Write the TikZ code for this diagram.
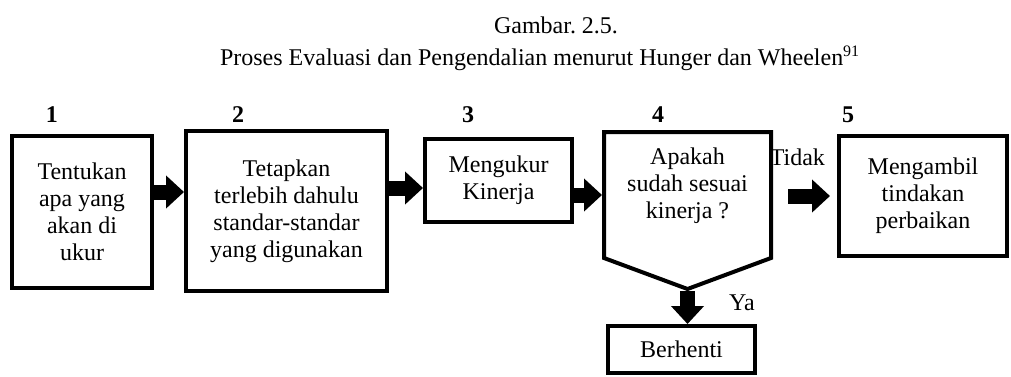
\documentclass[tikz,border=0pt]{standalone}
\usepackage{fontspec}
\setmainfont{Liberation Serif}
\usetikzlibrary{arrows.meta,positioning}

\begin{document}
\begin{tikzpicture}[x=0.5pt,y=-0.5pt,font=\fontsize{12}{13.5}\selectfont,
        kotak/.style={draw,line width=2pt,align=center,inner sep=0pt},
        blok/.style={line width=7.5pt,-{Triangle[length=9pt,width=16pt]}},
        nomor/.style={anchor=base,font=\fontsize{12}{13.5}\selectfont\bfseries}]
        \useasboundingbox (0,0) rectangle (1011,376);
        \node[anchor=base] (judul) at (556,33) {Gambar.\ 2.5.};
        \node[anchor=base west] (subjudul) at (213,65) {Proses Evaluasi dan Pengendalian menurut Hunger dan Wheelen\textsuperscript{91}};
        \node[kotak,minimum width=70pt,minimum height=76pt] (1) at (82,212) {Tentukan\\apa yang\\akan di\\ukur};
        \node[kotak,minimum width=100.5pt,minimum height=80pt] (2) [right=15pt of 1,yshift=0.5pt] {Tetapkan\\terlebih dahulu\\standar-standar\\yang digunakan};
        \node[kotak,minimum width=73.5pt,minimum height=41.5pt] (3) [right=17pt of 2,yshift=15.25pt] {Mengukur\\Kinerja};
        \node[minimum width=83.5pt,minimum height=63pt,outer sep=0pt] (4) [right=15pt of 3,yshift=-7.25pt] {};
        \node[align=center] (t4) at ([yshift=4.5pt]4.center) {Apakah\\sudah sesuai\\kinerja ?};
        \node[kotak,minimum width=84pt,minimum height=60pt] (5) [right=33pt of 4,yshift=-0.5pt] {Mengambil\\tindakan\\perbaikan};
        \node[kotak,minimum width=73.5pt,minimum height=23.5pt] (stop) [below=33pt of 4,xshift=-3pt] {Berhenti};
        % kotak keputusan
        \draw[line width=2pt] (4.north west) -- (4.north east) -- (4.south east) -- ([yshift=-15.5pt]4.south) -- (4.south west) -- cycle;
        \node[nomor] (n1) at (52,122) {1};
        \node[nomor] (n2) at (238,122) {2};
        \node[nomor] (n3) at (468,122) {3};
        \node[nomor] (n4) at (658,122) {4};
        \node[nomor] (n5) at (848,122) {5};
        \draw[blok] ([yshift=10pt]1.east) -- ([yshift=10pt]1.east -| 2.west);
        \draw[blok] ([yshift=-3.75pt]3.west -| 2.east) -- ([yshift=-3.75pt]3.west);
        \draw[blok] (3.east |- 4.west) -- ([xshift=-1pt]4.west);
        \draw[blok] ([xshift=8.5pt]4.east |- 5.west) -- ([xshift=-3.5pt]5.west);
        \draw[blok] ([yshift=-16.5pt]4.south) -- (4.south |- stop.north);
        \node[anchor=base east] (tidak) at ([xshift=-2.5pt,yshift=15.5pt]5.west) {Tidak};
        \node[anchor=base west] (ya) at (722,310) {Ya};
    \end{tikzpicture}
\end{document}
